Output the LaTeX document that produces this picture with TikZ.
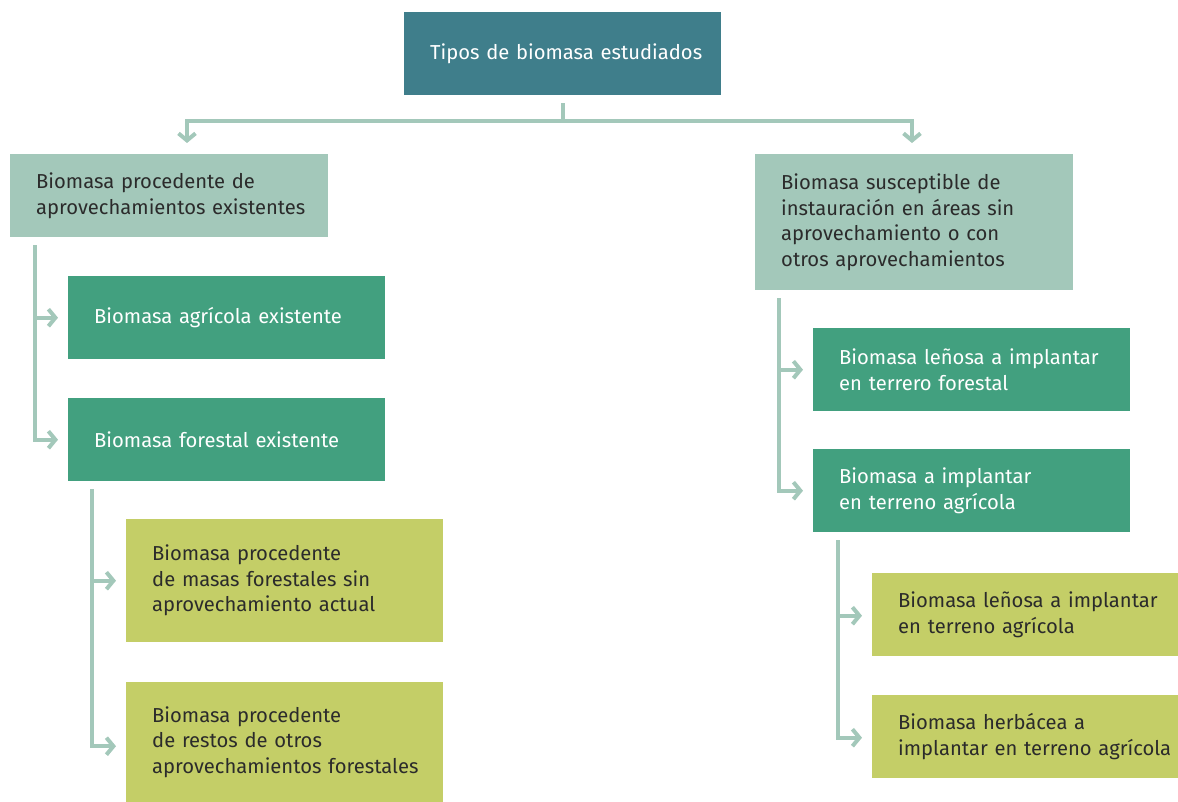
\documentclass[tikz,border=0pt]{standalone}
\usepackage{fontspec}
\setmainfont{Fira Sans}
\usetikzlibrary{arrows.meta}
\definecolor{cteal}{HTML}{3F7E8B}
\definecolor{cgreen}{HTML}{42A07F}
\definecolor{clight}{HTML}{A3C8BA}
\definecolor{cyellow}{HTML}{C4CE67}
\definecolor{ctext}{HTML}{2B2B2B}
\begin{document}
\begin{tikzpicture}[x=1pt,y=-1pt,
  box/.style={anchor=north west, rectangle, inner xsep=0pt, inner ysep=0pt,
    align=left, font=\fontsize{20.2}{25.5}\selectfont, text width=318pt, minimum height=83pt,
    execute at begin node={\leftskip=26pt\relax\hyphenpenalty=10000\relax}},
  tealbox/.style={box, fill=cteal, text=white},
  lightbox/.style={box, fill=clight, text=ctext},
  greenbox/.style={box, fill=cgreen, text=white},
  yellowbox/.style={box, fill=cyellow, text=ctext},
  conn/.style={draw=clight, line width=4pt, line cap=butt, line join=miter,
    -{Straight Barb[length=7pt,width=17pt,line width=4pt]}},
  plain/.style={draw=clight, line width=4pt}
]
\useasboundingbox (0,0) rectangle (1178,802);

\node[tealbox, text width=317pt] (top) at (404,12) {Tipos de biomasa estudiados};
\node[lightbox] (L1) at (10,154) {Biomasa procedente de\\aprovechamientos existentes};
\node[lightbox, minimum height=136pt] (R1) at (755,154) {Biomasa susceptible de\\instauración en áreas sin\\aprovechamiento o con\\otros aprovechamientos};
\node[greenbox, text width=317pt] (L2a) at (68,276) {Biomasa agrícola existente};
\node[greenbox, text width=317pt] (L2b) at (68,398) {Biomasa forestal existente};
\node[yellowbox, text width=317pt, minimum height=123pt] (L3a) at (126,519) {Biomasa procedente\\de masas forestales sin\\aprovechamiento actual};
\node[yellowbox, text width=317pt, minimum height=120pt] (L3b) at (126,682) {Biomasa procedente\\de restos de otros\\aprovechamientos forestales};
\node[greenbox, text width=317pt] (R2a) at (813,328) {Biomasa leñosa a implantar\\en terrero forestal};
\node[greenbox, text width=317pt] (R2b) at (813,449) {Biomasa a implantar\\en terreno agrícola};
\node[yellowbox] (R3a) at (872,573) {Biomasa leñosa a implantar\\en terreno agrícola};
\node[yellowbox] (R3b) at (872,695) {Biomasa herbácea a\\implantar en terreno agrícola};

% top split
\coordinate (tstart) at ([yshift=-8pt]top.south);
\coordinate (thor) at ([yshift=-26pt]top.south);
\draw[plain] (tstart) -- (thor);
\draw[conn] (thor) -| ([xshift=177pt,yshift=11pt]L1.north west);
\draw[conn] (thor) -| ([xshift=157pt,yshift=11pt]R1.north west);

% left branch
\coordinate (l1s) at ([xshift=25pt,yshift=-8pt]L1.south west);
\draw[conn] (l1s) |- ([xshift=-10pt]L2a.west);
\draw[conn] (l1s) |- ([xshift=-10pt]L2b.west);
\coordinate (l2s) at ([xshift=24pt,yshift=-8pt]L2b.south west);
\draw[conn] (l2s) |- ([xshift=-10pt]L3a.west);
\draw[conn] (l2s) |- ([xshift=-10pt,yshift=-4pt]L3b.west);

% right branch
\coordinate (r1s) at ([xshift=24pt,yshift=-8pt]R1.south west);
\draw[conn] (r1s) |- ([xshift=-10pt]R2a.west);
\draw[conn] (r1s) |- ([xshift=-10pt]R2b.west);
\coordinate (r2s) at ([xshift=25pt,yshift=-8pt]R2b.south west);
\draw[conn] (r2s) |- ([xshift=-10pt,yshift=-1pt]R3a.west);
\draw[conn] (r2s) |- ([xshift=-10pt,yshift=-1pt]R3b.west);
\end{tikzpicture}
\end{document}
